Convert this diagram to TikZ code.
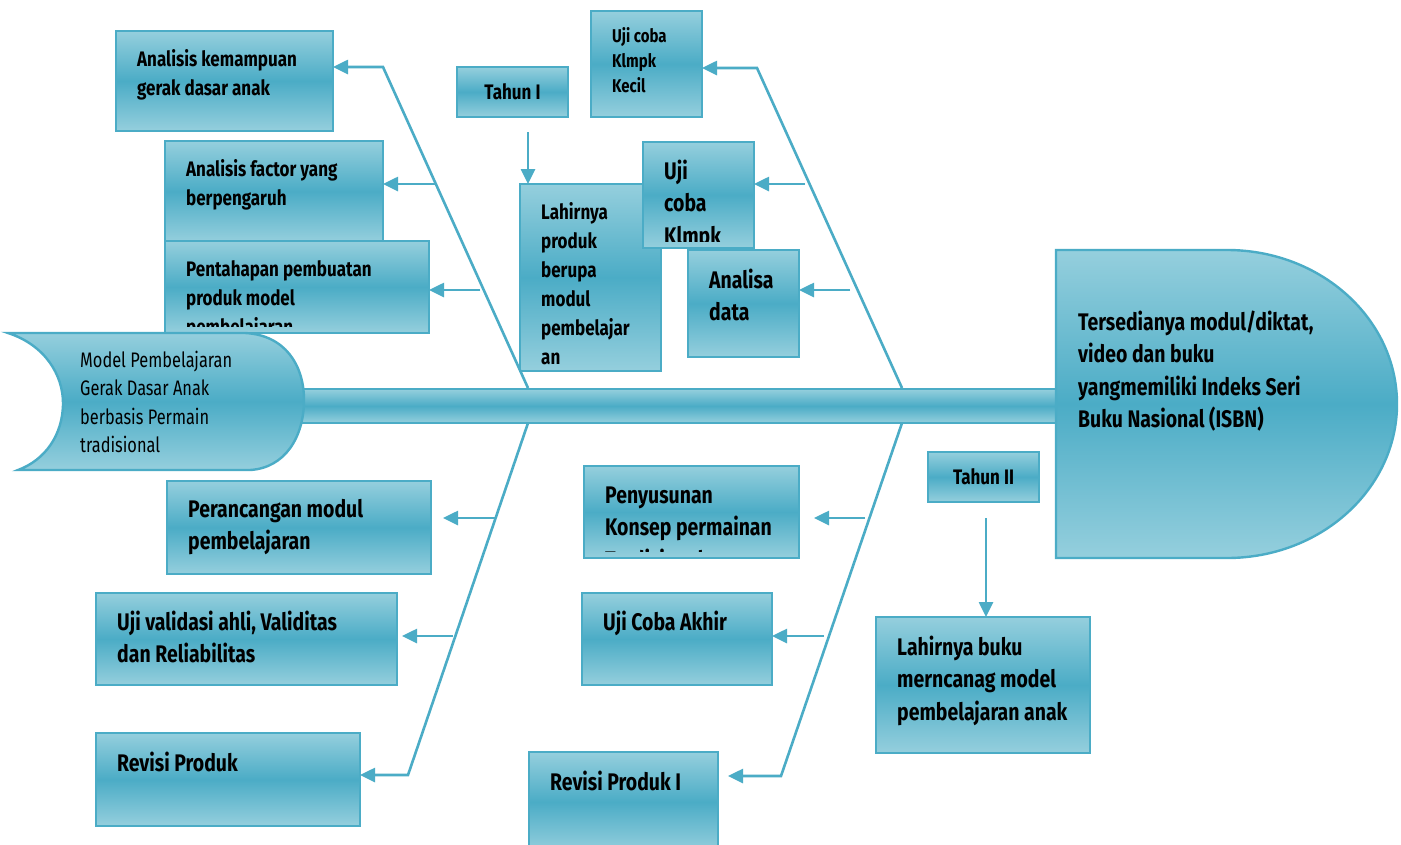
\documentclass[tikz,border=0pt]{standalone}
\usepackage{fontspec}
\usetikzlibrary{arrows.meta,calc}
\newfontfamily\agb{Fira Sans}[FakeStretch=0.81]
\newfontfamily\agr{Fira Sans}[FakeStretch=0.78]
\definecolor{acc}{HTML}{4BACC6}
\definecolor{lt}{HTML}{95CFDD}
\definecolor{md}{HTML}{4BACC6}
\definecolor{edge}{HTML}{4BACC6}
\tikzset{
 boxsty/.style={draw=edge, line width=2.4pt, top color=lt, bottom color=lt, middle color=md, inner sep=0pt, outer sep=0pt},
 fsmall/.style={font=\agb\bfseries\fontsize{21}{29}\selectfont},
 flarge/.style={font=\agb\bfseries\fontsize{24}{32.5}\selectfont},
 ftiny/.style={font=\agb\bfseries\fontsize{18.5}{25}\selectfont},
 fplain/.style={font=\agr\fontsize{21}{28.5}\selectfont},
 txtsty/.style={inner sep=0pt, text=black},
 arr/.style={draw=acc, line width=2.6pt, -{Triangle[length=15pt,width=14pt]}},
 rarr/.style={draw=acc, line width=2.6pt, {Triangle[length=15pt,width=14pt]}-},
 shapesty/.style={draw=edge, line width=2.4pt, top color=lt, bottom color=lt, middle color=md},
}
\newcommand\labbox[8]{%
  \node[boxsty, anchor=north west, minimum width={#4-#2}, minimum height={#5-#3}] (#1) at (#2,#3) {};
  \begin{scope}
    \clip (#2+2,#3+2) rectangle (#4-2,#5-7);
    \node[txtsty,#6,anchor=base west] (#1-t) at (#2+21,#3+#7) {\vtop{\halign{##\hfil\cr#8\crcr}}};
  \end{scope}}
\begin{document}
\begin{tikzpicture}[x=1pt,y=-1pt]
\useasboundingbox (0,0) rectangle (1401,844);
\fill[white] (0,0) rectangle (1401,844);

% boxes
\labbox{akg}{116}{31}{333}{131}{fsmall}{35}{Analisis kemampuan\cr gerak dasar anak}
\labbox{afy}{165}{141}{383}{242}{fsmall}{35}{Analisis factor yang\cr berpengaruh}
\labbox{ppm}{165}{241}{429}{333}{fsmall}{35}{Pentahapan pembuatan\cr produk model\cr pembelajaran}
\labbox{lpm}{520}{184}{661}{371}{fsmall}{35}{Lahirnya\cr produk\cr berupa\cr modul\cr pembelajar\cr an}
\labbox{ujk}{591}{11}{702}{117}{ftiny}{31.5}{Uji coba\cr Klmpk\cr Kecil}
\labbox{ujc}{643}{142}{754}{248}{flarge}{37}{Uji\cr coba\cr Klmpk}
\labbox{ad}{688}{250}{799}{357}{flarge}{38}{Analisa\cr data}
\labbox{pmp}{167}{481}{431}{574}{flarge}{36}{Perancangan modul\cr pembelajaran}
\labbox{uva}{96}{593}{397}{685}{flarge}{37}{Uji validasi ahli, Validitas\cr dan Reliabilitas}
\labbox{rp}{96}{733}{360}{826}{flarge}{38}{Revisi Produk}
\labbox{pkp}{584}{466}{799}{558}{flarge}{37}{Penyusunan\cr Konsep permainan\cr Tradisional}
\labbox{uca}{582}{593}{772}{685}{flarge}{37}{Uji Coba Akhir}
\labbox{rpi}{529}{752}{718}{852}{flarge}{38}{Revisi Produk I}
\labbox{lbm}{876}{617}{1090}{753}{flarge}{38}{Lahirnya buku\cr merncanag model\cr pembelajaran anak}

\node[boxsty, minimum width=111, minimum height=50, font=\agb\bfseries\fontsize{21}{24}\selectfont] (t1) at (512.5,92) {Tahun I};
\node[boxsty, minimum width=111, minimum height=50, font=\agb\bfseries\fontsize{21}{24}\selectfont] (t2) at (983.5,477) {Tahun II};

% bones and branch arrows
\coordinate (ul-a) at (383,67);  \coordinate (ul-b) at (528,388);
\coordinate (ll-a) at (528,423); \coordinate (ll-b) at (408,775);
\coordinate (ur-a) at (757,68);  \coordinate (ur-b) at (902,388);
\coordinate (lr-a) at (902,423); \coordinate (lr-b) at (781,776);

\draw[rarr, line join=miter] (akg.east |- ul-a) -- (ul-a) -- (ul-b);
\draw[rarr, line join=miter] (rp.east |- ll-b) -- (ll-b) -- (ll-a);
\draw[rarr, line join=miter] (ujk.east |- ur-a) -- (ur-a) -- (ur-b);
\draw[rarr, line join=miter, shorten <=10pt] (rpi.east |- lr-b) -- (lr-b) -- (lr-a);

\coordinate (ul-1) at (435,184); \draw[arr] (ul-1) -- (afy.east |- ul-1);
\coordinate (ul-2) at (480,290); \draw[arr] (ul-2) -- (ppm.east |- ul-2);
\coordinate (ur-1) at (805,184); \draw[arr] (ur-1) -- (ujc.east |- ur-1);
\coordinate (ur-2) at (850,290); \draw[arr] (ur-2) -- (ad.east |- ur-2);
\coordinate (ll-1) at (496,518); \draw[arr, shorten >=12pt] (ll-1) -- (pmp.east |- ll-1);
\coordinate (ll-2) at (453,636); \draw[arr, shorten >=5pt] (ll-2) -- (uva.east |- ll-2);
\coordinate (lr-1) at (865,518); \draw[arr, shorten >=15pt] (lr-1) -- (pkp.east |- lr-1);
\coordinate (lr-2) at (824,636); \draw[arr] (lr-2) -- (uca.east |- lr-2);

\coordinate (t1s) at (528,132); \draw[arr] (t1s) -- (lpm.north -| t1s);
\coordinate (t2s) at (986,518); \draw[arr] (t2s) -- (lbm.north -| t2s);

% spine
\path[draw=edge, line width=2pt, top color=lt, bottom color=lt, middle color=md] (290,389) rectangle (1060,423);

% tail
\path[shapesty] (8,333) -- (245,333) .. controls (285,335) and (304,365) .. (304,400)
  .. controls (304,437) and (285,468) .. (250,470) -- (18,470)
  .. controls (45,460) and (63,435) .. (63,403) .. controls (63,375) and (45,345) .. (8,333) -- cycle;
\node[txtsty, fplain, anchor=base west] (tail) at (80,367) {\vtop{\halign{#\hfil\cr Model Pembelajaran\cr Gerak Dasar Anak\cr berbasis Permain\cr tradisional\crcr}}};

% head
\path[shapesty] (1056,250) -- (1227,250) .. controls (1321,250) and (1397,319) .. (1397,404)
  .. controls (1397,489) and (1321,558) .. (1227,558) -- (1056,558) -- cycle;
\node[txtsty, flarge, anchor=base west] (head) at (1078,330) {\vtop{\halign{#\hfil\cr Tersedianya modul/diktat,\cr video dan buku\cr yangmemiliki Indeks Seri\cr Buku Nasional (ISBN)\crcr}}};
\end{tikzpicture}
\end{document}
